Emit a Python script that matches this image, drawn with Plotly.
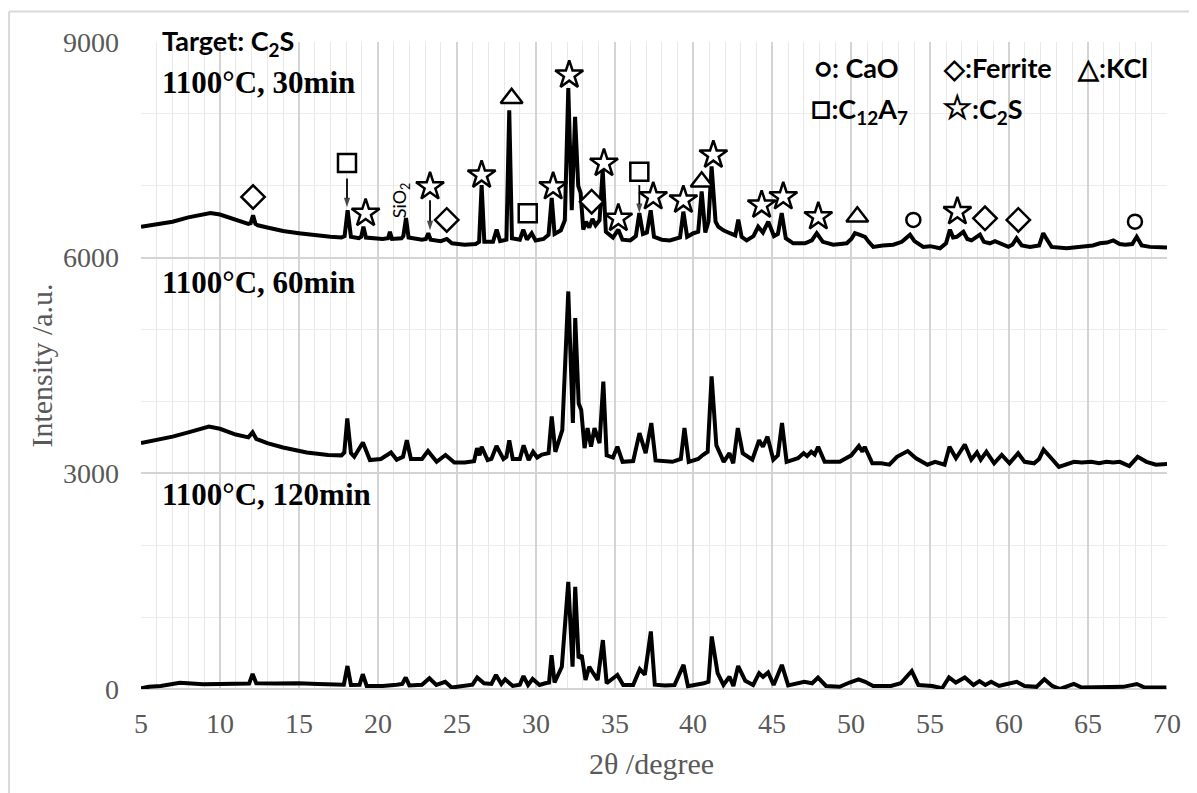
import plotly.graph_objects as go

# ---------------- data ----------------
two_theta_30 = [5.0, 6.0, 7.0, 8.0, 9.0, 9.4, 10.0, 11.0, 11.8, 11.95, 12.1, 12.25, 12.4, 13.0, 14.0, 15.0, 16.0, 17.0, 17.7,
                17.9, 18.09, 18.3, 18.8, 18.95, 19.09, 19.25, 20.3, 20.65, 20.77, 20.9, 21.5, 21.62, 21.79, 21.95,
                22.8, 23.05, 23.2, 23.35, 24.0, 24.37, 24.7, 25.5, 26.2, 26.42, 26.58, 26.75, 27.3, 27.53, 27.75,
                28.15, 28.33, 28.5, 29.0, 29.22, 29.45, 29.75, 30.0, 30.5, 30.82, 31.02, 31.2, 31.6, 31.85, 32.07,
                32.29, 32.5, 32.7, 32.85, 33.02, 33.2, 33.4, 33.6, 33.8, 34.05, 34.25, 34.45, 34.9, 35.24, 35.5,
                36.0, 36.35, 36.57, 36.8, 37.05, 37.29, 37.5, 38.0, 38.5, 39.15, 39.36, 39.6, 40.0, 40.3, 40.52,
                40.75, 40.95, 41.15, 41.4, 41.57, 41.9, 42.31, 42.65, 42.84, 43.05, 43.37, 43.8, 44.1, 44.4, 44.74,
                45.1, 45.35, 45.59, 45.85, 46.32, 46.7, 47.07, 47.5, 47.81, 48.2, 48.86, 49.3, 49.71, 50.0, 50.23,
                50.5, 50.87, 51.1, 51.39, 52.0, 52.66, 53.2, 53.72, 54.0, 54.56, 55.0, 55.62, 56.0, 56.25, 56.45,
                56.68, 57.1, 57.35, 57.62, 58.15, 58.4, 58.78, 59.1, 59.42, 59.95, 60.2, 60.47, 60.8, 61.32, 61.9,
                62.16, 62.4, 62.69, 63.64, 64.7, 65.3, 65.75, 66.2, 66.6, 67.0, 67.34, 67.8, 68.08, 68.4, 68.92,
                69.5, 70.0]
intensity_30 = [6430, 6470, 6500, 6560, 6610, 6620, 6600, 6520, 6470, 6480, 6590, 6470, 6450, 6420, 6370, 6340, 6310, 6290, 6280,
                6300, 6660, 6290, 6270, 6290, 6430, 6280, 6260, 6270, 6360, 6260, 6270, 6300, 6550, 6280,
                6250, 6260, 6340, 6250, 6230, 6260, 6200, 6180, 6190, 6220, 7010, 6220, 6220, 6390, 6230,
                6250, 8050, 6270, 6250, 6390, 6250, 6340, 6240, 6260, 6320, 6830, 6330, 6380, 6520, 8360,
                6660, 7960, 7000, 6900, 6390, 6500, 6420, 6540, 6450, 6520, 7220, 6360, 6280, 6390, 6250,
                6240, 6300, 6620, 6330, 6350, 6660, 6290, 6250, 6240, 6280, 6640, 6290, 6340, 6360, 6920,
                6350, 6500, 7270, 6500, 6430, 6380, 6340, 6310, 6530, 6290, 6240, 6300, 6430, 6350, 6500,
                6300, 6330, 6620, 6270, 6200, 6200, 6200, 6240, 6340, 6220, 6180, 6190, 6200, 6260, 6340,
                6320, 6290, 6220, 6150, 6170, 6180, 6220, 6320, 6230, 6150, 6160, 6130, 6200, 6390, 6280,
                6290, 6360, 6260, 6240, 6320, 6220, 6200, 6230, 6200, 6150, 6180, 6270, 6170, 6150, 6170,
                6340, 6250, 6150, 6130, 6150, 6170, 6200, 6210, 6240, 6190, 6180, 6190, 6290, 6170, 6150,
                6150, 6140]

two_theta_60 = [5.0, 6.0, 7.0, 8.0, 9.0, 9.3, 10.0, 11.0, 11.8, 12.07, 12.3, 13.0, 14.0, 14.62, 15.5, 16.85, 17.7,
                17.88, 18.07, 18.3, 18.51, 19.06, 19.5, 20.2, 20.84, 21.2, 21.6, 21.84, 22.1, 22.8, 23.18, 23.73,
                24.29, 24.85, 25.51, 26.1, 26.29, 26.45, 26.58, 26.96, 27.2, 27.52, 27.96, 28.15, 28.33, 28.55,
                29.0, 29.24, 29.56, 29.84, 30.1, 30.4, 30.82, 31.02, 31.25, 31.69, 32.07, 32.36, 32.51, 32.73,
                32.89, 33.1, 33.29, 33.51, 33.73, 34.05, 34.29, 34.5, 34.9, 35.18, 35.51, 36.18, 36.58, 36.97,
                37.33, 37.6, 38.2, 38.66, 39.2, 39.43, 39.7, 40.3, 40.59, 40.9, 41.15, 41.45, 41.92, 42.28, 42.52,
                42.81, 43.12, 43.73, 44.16, 44.4, 44.69, 45.06, 45.35, 45.61, 45.9, 46.62, 46.98, 47.2, 47.46,
                47.68, 47.9, 48.31, 49.27, 50.0, 50.48, 50.7, 50.85, 51.33, 51.9, 52.41, 52.89, 53.2, 53.57,
                54.1, 54.82, 55.31, 55.91, 56.22, 56.63, 56.9, 57.19, 57.6, 57.96, 58.2, 58.56, 59.05, 59.53,
                60.02, 60.57, 60.98, 61.58, 61.9, 62.18, 62.67, 63.15, 64.11, 64.6, 65.2, 65.7, 66.16, 66.6,
                67.01, 67.61, 68.14, 68.7, 69.3, 70.0]
intensity_60 = [3420, 3460, 3510, 3570, 3630, 3650, 3620, 3540, 3500, 3570, 3480, 3420, 3360, 3330, 3290, 3255, 3250,
                3290, 3765, 3280, 3230, 3430, 3185, 3200, 3290, 3190, 3230, 3460, 3200, 3200, 3310, 3160,
                3255, 3150, 3150, 3170, 3350, 3250, 3370, 3185, 3200, 3380, 3200, 3230, 3460, 3200,
                3200, 3390, 3185, 3300, 3220, 3260, 3280, 3790, 3300, 3600, 5530, 3700, 5160, 3970,
                3880, 3350, 3630, 3370, 3630, 3420, 4275, 3250, 3220, 3370, 3160, 3170, 3560, 3280,
                3700, 3180, 3170, 3160, 3200, 3630, 3160, 3200, 3255, 3300, 4350, 3390, 3160, 3280, 3140,
                3630, 3280, 3190, 3460, 3370, 3510, 3190, 3250, 3700, 3160, 3210, 3280, 3240, 3300,
                3260, 3370, 3160, 3160, 3250, 3380, 3300, 3370, 3140, 3140, 3120, 3230, 3270, 3310,
                3210, 3120, 3160, 3120, 3370, 3210, 3300, 3400, 3190, 3290, 3190, 3300, 3140, 3255,
                3140, 3280, 3160, 3140, 3200, 3330, 3210, 3090, 3160, 3150, 3160, 3140, 3160, 3150,
                3160, 3100, 3230, 3160, 3120, 3130]

two_theta_120 = [5.0, 5.5, 6.25, 7.0, 7.46, 8.2, 8.92, 10.0, 11.1, 11.85, 12.07, 12.3, 13.5, 14.98, 16.2, 17.4, 17.85,
                 18.08, 18.3, 18.85, 19.05, 19.3, 20.31, 21.2, 21.55, 21.77, 22.0, 22.8, 23.27, 23.71, 24.27, 24.68,
                 25.65, 26.0, 26.3, 26.73, 27.2, 27.49, 27.83, 28.07, 28.55, 29.0, 29.23, 29.52, 29.81, 30.25, 30.61,
                 30.85, 31.01, 31.2, 31.66, 32.07, 32.34, 32.51, 32.72, 32.92, 33.16, 33.4, 33.65, 33.93, 34.26, 34.5,
                 35.18, 35.55, 36.18, 36.6, 36.92, 37.3, 37.55, 38.2, 38.8, 39.37, 39.65, 40.3, 40.66, 40.95, 41.16,
                 41.53, 41.9, 42.28, 42.53, 42.83, 43.28, 43.78, 44.16, 44.41, 44.73, 45.08, 45.6, 46.0, 47.02,
                 47.52, 47.89, 48.4, 49.26, 49.89, 50.46, 50.88, 51.38, 52.51, 53.13, 53.83, 54.25, 55.12, 55.75,
                 56.19, 56.62, 57.19, 57.74, 58.12, 58.49, 58.86, 59.36, 59.86, 60.48, 60.98, 61.73, 62.23, 62.73,
                 63.22, 64.1, 64.6, 65.97, 67.22, 68.09, 68.59, 69.96]
intensity_120 = [10, 30, 42, 70, 88, 75, 65, 70, 70, 75, 210, 80, 75, 80, 70, 56, 60,
                 320, 56, 60, 205, 42, 42, 60, 70, 160, 50, 60, 150, 56, 100, 20,
                 42, 60, 160, 80, 70, 195, 70, 135, 42, 60, 180, 56, 140, 56, 80,
                 90, 470, 90, 310, 1490, 310, 1420, 430, 470, 125, 310, 220, 125, 680, 80,
                 195, 56, 56, 275, 200, 800, 60, 50, 56, 335, 40, 60, 80, 100, 730,
                 220, 56, 170, 42, 320, 115, 56, 220, 170, 230, 56, 335, 50, 100,
                 80, 160, 42, 30, 90, 135, 100, 42, 42, 80, 250, 56, 42, 10,
                 160, 90, 160, 56, 110, 56, 100, 42, 70, 100, 42, 30, 135, 42,
                 0, 70, 20, 30, 30, 70, 20, 20]

# phase markers on the 30 min pattern
star_x = [19.23, 23.31, 26.58, 31.11, 32.13, 34.33, 35.24, 37.45, 39.36, 41.26, 44.32, 45.69, 47.91, 56.72]
star_y = [6617, 6987, 7150, 6987, 8541, 7312, 6547, 6848, 6802, 7428, 6732, 6848, 6570, 6640]
diamond_x = [12.1, 24.37, 33.55, 58.47, 60.58]
diamond_y = [6844, 6525, 6779, 6547, 6525]
square_x = [18.05, 29.5, 36.57]
square_y = [7317, 6617, 7196]
triangle_x = [28.48, 40.52, 50.38]
triangle_y = [8217, 7057, 6570]
circle_x = [53.93, 67.97]
circle_y = [6525, 6501]

# arrows (x, start y, end y)
arrow_x = [18.05, 23.31, 36.57]
arrow_y0 = [7100, 6800, 7010]
arrow_y1 = [6700, 6380, 6620]

x_ticks = [5, 10, 15, 20, 25, 30, 35, 40, 45, 50, 55, 60, 65, 70]
y_ticks = [0, 3000, 6000, 9000]

# ---------------- figure ----------------
fig = go.Figure()
for xs, ys in [(two_theta_30, intensity_30), (two_theta_60, intensity_60), (two_theta_120, intensity_120)]:
    fig.add_trace(go.Scatter(x=xs, y=ys, mode="lines", line=dict(color="black", width=4),
                             showlegend=False, hoverinfo="skip"))

# arrows drawn as short lines ending in an arrow-head marker
for ax_, y0, y1 in zip(arrow_x, arrow_y0, arrow_y1):
    fig.add_trace(go.Scatter(x=[ax_, ax_], y=[y0, y1], mode="lines+markers",
                             line=dict(color="black", width=1.8),
                             marker=dict(symbol=["circle", "arrow"], size=[0.1, 10], color="black",
                                         angleref="previous", line=dict(width=0)),
                             showlegend=False, hoverinfo="skip"))

marker_sets = [
    (star_x, star_y, "star", 21),
    (diamond_x, diamond_y, "diamond", 18),
    (square_x, square_y, "square", 18),
    (triangle_x, triangle_y, "triangle-up", 19),
    (circle_x, circle_y, "circle", 14),
]
for xs, ys, sym, size in marker_sets:
    fig.add_trace(go.Scatter(x=xs, y=ys, mode="markers",
                             marker=dict(symbol=sym, size=size, color="white",
                                         line=dict(color="black", width=2.5)),
                             showlegend=False, hoverinfo="skip"))

bold_serif = dict(family="Liberation Serif", size=31, color="black")
label_font_sans = dict(family="Lato", size=27, color="black")
big = '<span style="font-size:34px">'
tick_font = dict(family="Liberation Serif", size=28, color="#595959")
title_font = dict(family="Liberation Serif", size=30, color="#595959")

annotations = [
    dict(x=6.2, y=8990, xref="x", yref="y", xanchor="left", yanchor="middle",
         text="<b>Target: C<sub>2</sub>S</b>", showarrow=False, font=label_font_sans),
    dict(x=6.2, y=8430, xref="x", yref="y", xanchor="left", yanchor="middle",
         text="<b>1100°C, 30min</b>", showarrow=False, font=bold_serif),
    dict(x=6.2, y=5660, xref="x", yref="y", xanchor="left", yanchor="middle",
         text="<b>1100°C, 60min</b>", showarrow=False, font=bold_serif),
    dict(x=6.2, y=2700, xref="x", yref="y", xanchor="left", yanchor="middle",
         text="<b>1100°C, 120min</b>", showarrow=False, font=bold_serif),
    dict(x=21.41, y=6800, xref="x", yref="y", textangle=-90, text="SiO<sub>2</sub>",
         showarrow=False, font=dict(family="Lato", size=18, color="black")),
    dict(x=47.5, y=8650, xref="x", yref="y", xanchor="left", yanchor="middle",
         text="<b>○: CaO</b>", showarrow=False, font=label_font_sans),
    dict(x=55.7, y=8650, xref="x", yref="y", xanchor="left", yanchor="middle",
         text="<b>◇:Ferrite</b>", showarrow=False, font=label_font_sans),
    dict(x=64.15, y=8650, xref="x", yref="y", xanchor="left", yanchor="middle",
         text="<b>△:KCl</b>", showarrow=False, font=label_font_sans),
    dict(x=47.3, y=8100, xref="x", yref="y", xanchor="left", yanchor="middle",
         text="<b>" + big + "□</span>:C<sub>12</sub>A<sub>7</sub></b>", showarrow=False, font=label_font_sans),
    dict(x=55.6, y=8100, xref="x", yref="y", xanchor="left", yanchor="middle",
         text="<b>" + big + "☆</span>:C<sub>2</sub>S</b>", showarrow=False, font=label_font_sans),
    # x-axis title
    dict(x=0.498, y=-0.1144, xref="paper", yref="paper", xanchor="center", yanchor="middle",
         text="2θ /degree", showarrow=False, font=title_font),
]
# x tick labels placed under the axis through the x scale
for v in x_ticks:
    annotations.append(dict(x=v, y=-0.053, xref="x", yref="paper", xanchor="center", yanchor="middle",
                            text=str(v), showarrow=False, font=tick_font))

# page has an 8px body margin; figure sized so the plot area sits where the reference has it
fig.update_layout(
    width=1189, height=785,
    margin=dict(l=133, r=30, t=34, b=104),
    paper_bgcolor="white", plot_bgcolor="white",
    annotations=annotations,
    shapes=[
        dict(type="line", xref="paper", yref="paper", x0=-0.1286, x1=1.03, y0=1.047, y1=1.047,
             line=dict(color="#d9d9d9", width=2)),
        dict(type="line", xref="paper", yref="paper", x0=-0.1286, x1=-0.1286, y0=1.047, y1=-0.17,
             line=dict(color="#d9d9d9", width=2)),
    ],
    xaxis=dict(range=[5, 70], tickvals=x_ticks, showticklabels=False,
               showgrid=True, gridcolor="#d4d4d4", gridwidth=2, zeroline=False, showline=False,
               ticks="", minor=dict(dtick=1, showgrid=True, gridcolor="#e8e8e8", gridwidth=1)),
    yaxis=dict(range=[0, 9000], tickvals=y_ticks, ticktext=[str(v) for v in y_ticks],
               showgrid=True, gridcolor="#d4d4d4", gridwidth=2, zeroline=True, zerolinecolor="#d4d4d4",
               zerolinewidth=2, showline=False, ticks="", ticklabelstandoff=21, tickfont=tick_font,
               minor=dict(dtick=1000, showgrid=True, gridcolor="#ececec", gridwidth=1),
               title=dict(text="Intensity /a.u.", font=title_font, standoff=1)),
)

fig.write_html("out.html")
